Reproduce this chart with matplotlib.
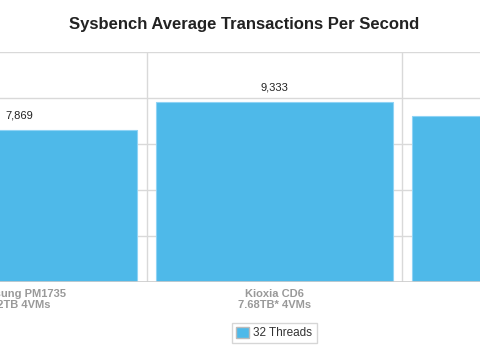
import matplotlib.pyplot as plt
from matplotlib.patches import Patch

plt.rcParams['font.family'] = ['Liberation Sans', 'DejaVu Sans']

# Data (third drive is mostly outside the visible crop)
categories = ['Samsung PM1735\n3.2TB 4VMs', 'Kioxia CD6\n7.68TB* 4VMs', '']
tps_32_threads = [7869, 9333, 8600]
series_name = '32 Threads'

bar_color = '#4eb9e9'
grid_color = '#d9d9d9'

fig = plt.figure(figsize=(4.8, 3.52), dpi=100)
ax = fig.add_axes([0, 0.198, 1, 0.655])

x = list(range(len(categories)))
bars = ax.bar(x, tps_32_threads, width=0.926, color=bar_color,
              edgecolor='#8fd3f5', linewidth=0.8, zorder=3)

# value labels above each bar
for xi, v in zip(x, tps_32_threads):
    ax.annotate(f'{v:,}', (xi, v), xytext=(0, 7), textcoords='offset points',
                ha='center', va='bottom', fontsize=8, color='#222222')

# horizontal grid
for k in range(6):
    ax.axhline(k * 11930 / 5, color=grid_color, linewidth=1, zorder=1)
# category separators
for b in [-0.5, 0.5, 1.5]:
    ax.axvline(b, color=grid_color, linewidth=1, zorder=1)
ax.axhline(0, color='#cccccc', linewidth=1.2, zorder=4)

ax.set_xticks(x)
ax.set_xticklabels(categories, fontsize=8, fontweight='bold', color='#999999',
                   linespacing=1.1)
ax.tick_params(axis='x', length=0, pad=5)
ax.set_yticks([])
for s in ax.spines.values():
    s.set_visible(False)

# the reference is a crop of a wider chart
ax.set_xlim(-0.0735, 1.8037)
ax.set_ylim(0, 11930)

fig.text(0.509, 0.929, 'Sysbench Average Transactions Per Second',
         ha='center', va='center', fontsize=12, fontweight='bold', color='#222222')

handle = Patch(facecolor=bar_color, edgecolor='#bbbbbb', linewidth=1)
leg = fig.legend([handle], [series_name], loc='center',
                 bbox_to_anchor=(0.571, 0.054), fontsize=8.5, frameon=True,
                 fancybox=False, edgecolor='#cccccc', handlelength=1.1,
                 handleheight=1.1, handletextpad=0.4, borderpad=0.35)
leg.get_frame().set_linewidth(1)
for t in leg.get_texts():
    t.set_color('#333333')

fig.savefig('out.png', dpi=100)
